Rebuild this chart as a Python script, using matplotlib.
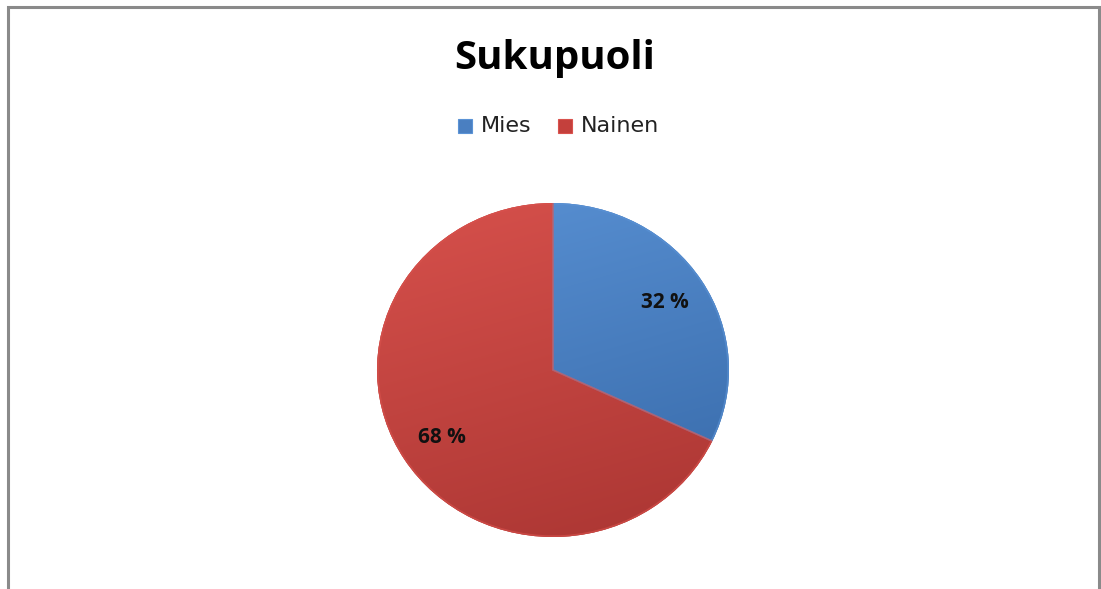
import numpy as np
import matplotlib.pyplot as plt
from matplotlib.patches import Rectangle, Wedge

labels = ["Mies", "Nainen"]
values = [32, 68]
colors = ["#4a7fc1", "#c4403c"]
light = ["#5b93d6", "#d9524d"]
dark = ["#3466a5", "#a83431"]

W, H = 1101, 589
fig = plt.figure(figsize=(W / 100, H / 100), dpi=100)
fig.patch.set_facecolor("white")

# outer chart frame (bottom edge cut off like in the screenshot)
fig.add_artist(Rectangle((8 / W, -0.05), (1099 - 8) / W, 1.05 - 7 / H,
                         transform=fig.transFigure, fill=False,
                         edgecolor="#8a8a8a", linewidth=2.2))

# pie axes, slightly squashed vertically
cx, cy, rx, ry = 553, 370, 176, 167
ax = fig.add_axes([(cx - rx) / W, (H - cy - ry) / H, 2 * rx / W, 2 * ry / H])
wedges, texts, autotexts = ax.pie(
    values, colors=colors, startangle=90, counterclock=False,
    autopct=lambda p: f"{p:.0f} %", pctdistance=0.75,
    wedgeprops=dict(edgecolor="none"),
    textprops=dict(fontsize=15, fontweight="bold", family="Open Sans",
                   color="#111111"))
ax.set_aspect("auto")
ax.set_xlim(-1, 1)
ax.set_ylim(-1, 1)

# simple office-like shading inside each wedge
yy, xx = np.mgrid[1:-1:300j, -1:1:300j]
shade = np.clip(0.5 + 0.35 * (yy - xx * 0.3), 0, 1)
for w, lc, dc in zip(wedges, light, dark):
    a = np.array(plt.matplotlib.colors.to_rgb(lc))
    b = np.array(plt.matplotlib.colors.to_rgb(dc))
    img = b + (a - b) * shade[..., None]
    im = ax.imshow(img, extent=(-1, 1, -1, 1), aspect="auto", zorder=1.5)
    im.set_clip_path(w)
# soft bevel along the wedge edges
for w, lc in zip(wedges, light):
    ax.add_patch(Wedge(w.center, w.r * 0.995, w.theta1, w.theta2, fill=False,
                       edgecolor=lc, linewidth=1.2, alpha=0.6, zorder=2,
                       clip_on=False))
for t in autotexts:
    t.set_zorder(5)

fig.text(555 / W, 1 - 58 / H, "Sukupuoli", ha="center", va="center",
         fontsize=29, fontweight="bold", family="Open Sans")

# legend
leg_y = 1 - 126 / H
for x0, lab, c, lc in [(458, labels[0], colors[0], light[0]),
                       (558, labels[1], colors[1], light[1])]:
    fig.add_artist(Rectangle((x0 / W, leg_y - 7 / H), 14 / W, 14 / H,
                             transform=fig.transFigure, facecolor=c,
                             edgecolor=lc, linewidth=0.8))
    fig.text((x0 + 23) / W, leg_y, lab, ha="left", va="center",
             fontsize=16, family="DejaVu Sans", color="#222222")

fig.savefig("out.png", dpi=100)
